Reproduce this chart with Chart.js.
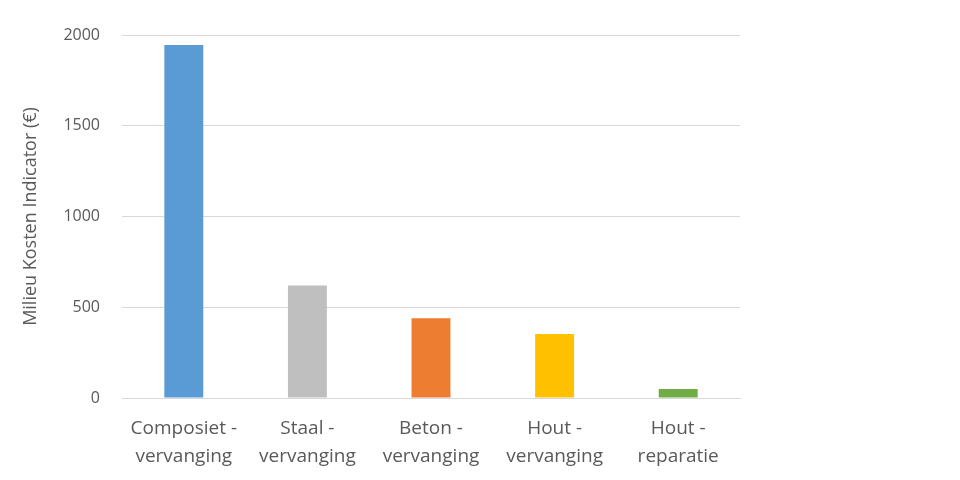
<!DOCTYPE html>
<html><head><meta charset="utf-8">
<script src="https://cdn.jsdelivr.net/npm/chart.js@4"></script>
<style>html,body{margin:0;padding:0;background:#fff}#w{width:960px;height:480px}</style>
</head><body><div id="w"><canvas id="c" width="960" height="480"></canvas></div>
<script>
const categories = [["Composiet -","vervanging"],["Staal -","vervanging"],["Beton -","vervanging"],["Hout -","vervanging"],["Hout -","reparatie"]];
const values = [1945, 620, 440, 352, 50];
const barColors = ["#5b9bd5","#bfbfbf","#ed7d31","#ffc000","#70ad47"];
const yTicks = [0, 500, 1000, 1500, 2000];
const yTitle = "Milieu Kosten Indicator (€)";

new Chart(document.getElementById('c'), {
  type: 'bar',
  data: { labels: categories, datasets: [{ data: values, backgroundColor: barColors, barPercentage: 0.63, categoryPercentage: 0.5 }] },
  options: {
    responsive: false, animation: false,
    layout: { padding: { top: 35, right: 220, left: 0, bottom: 0 } },
    plugins: { legend: { display: false }, tooltip: { enabled: false } },
    scales: {
      x: {
        grid: { display: false },
        border: { display: true, color: '#d9d9d9', width: 1 },
        ticks: { color: '#595959', font: { family: 'Open Sans', size: 19, lineHeight: 1.5 }, padding: 8, maxRotation: 0, autoSkip: false },
        afterFit: s => { s.height = 82; }
      },
      y: {
        min: 0, max: 2000,
        afterBuildTicks: s => { s.ticks = yTicks.map(v => ({ value: v })); },
        grid: { color: '#d9d9d9', drawTicks: false },
        border: { display: false },
        ticks: { color: '#595959', font: { family: 'Open Sans', size: 16 }, padding: 22, callback: v => String(v) },
        title: { display: true, text: yTitle, color: '#595959', font: { family: 'Open Sans', size: 18 }, padding: { top: 20, bottom: 0 } },
        afterFit: s => { s.width = 122; }
      }
    }
  }
});
</script></body></html>
